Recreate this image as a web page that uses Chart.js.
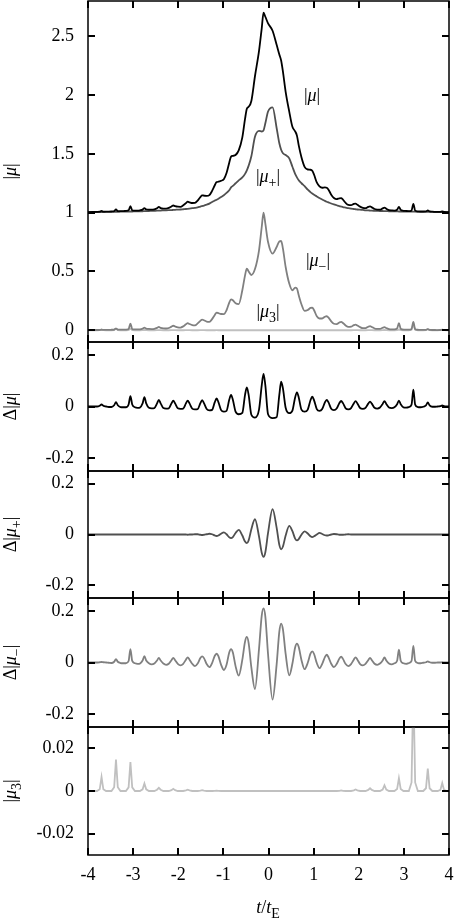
<!DOCTYPE html>
<html>
<head>
<meta charset="utf-8">
<script src="https://cdn.jsdelivr.net/npm/chart.js"></script>
<style>
  html, body { margin: 0; padding: 0; background: #fff; }
  #wrap { position: relative; width: 457px; height: 919px; }
  #wrap canvas { position: absolute; left: 0; top: 0; }
</style>
</head>
<body>
<div id="wrap">
  <canvas id="p1" width="457" height="919"></canvas>
  <canvas id="p2" width="457" height="919"></canvas>
  <canvas id="p3" width="457" height="919"></canvas>
  <canvas id="p4" width="457" height="919"></canvas>
  <canvas id="p5" width="457" height="919"></canvas>
</div>
<script>
// time grid t/tE (one row per ripple: p-0.1, p-0.04, p, p+0.04, p+0.1, then the gap point)
const t = [-4.00, -3.90,
  -3.80, -3.74, -3.70, -3.66, -3.60, -3.54,
  -3.48, -3.42, -3.38, -3.34, -3.28, -3.22,
  -3.16, -3.10, -3.06, -3.02, -2.96, -2.90,
  -2.85, -2.79, -2.75, -2.71, -2.65, -2.59,
  -2.53, -2.47, -2.43, -2.39, -2.33, -2.27,
  -2.21, -2.15, -2.11, -2.07, -2.01, -1.95,
  -1.89, -1.83, -1.79, -1.75, -1.69, -1.63,
  -1.57, -1.51, -1.47, -1.43, -1.37, -1.31,
  -1.25, -1.19, -1.15, -1.11, -1.05, -0.99,
  -0.93, -0.87, -0.83, -0.79, -0.73, -0.66,
  -0.58, -0.52, -0.48, -0.44, -0.38, -0.30,
  -0.21, -0.15, -0.11, -0.07, -0.01, 0.09,
  0.18, 0.24, 0.28, 0.32, 0.38, 0.46,
  0.53, 0.59, 0.63, 0.67, 0.73, 0.80,
  0.87, 0.93, 0.97, 1.01, 1.07, 1.13,
  1.19, 1.25, 1.29, 1.33, 1.39, 1.45,
  1.51, 1.57, 1.61, 1.65, 1.71, 1.77,
  1.83, 1.89, 1.93, 1.97, 2.03, 2.09,
  2.15, 2.21, 2.25, 2.29, 2.35, 2.41,
  2.47, 2.53, 2.57, 2.61, 2.67, 2.73,
  2.79, 2.85, 2.89, 2.93, 2.99, 3.05,
  3.11, 3.17, 3.21, 3.25, 3.31, 3.37,
  3.43, 3.49, 3.53, 3.57, 3.63, 3.69,
  3.75, 3.81, 3.85, 3.89, 3.95, 4.00];

// |mu|
const mu = [1.005, 1.006,
  1.007, 1.008, 1.015, 1.008, 1.009, 1.009,
  1.010, 1.013, 1.028, 1.013, 1.013, 1.013,
  1.015, 1.020, 1.055, 1.020, 1.018, 1.018,
  1.020, 1.026, 1.039, 1.027, 1.025, 1.025,
  1.028, 1.037, 1.048, 1.039, 1.035, 1.035,
  1.040, 1.053, 1.061, 1.056, 1.051, 1.050,
  1.062, 1.081, 1.093, 1.088, 1.082, 1.083,
  1.103, 1.132, 1.147, 1.145, 1.142, 1.149,
  1.185, 1.233, 1.260, 1.263, 1.271, 1.285,
  1.338, 1.425, 1.477, 1.483, 1.490, 1.530,
  1.640, 1.797, 1.884, 1.900, 1.950, 2.160,
  2.375, 2.568, 2.700, 2.666, 2.610, 2.547,
  2.428, 2.345, 2.294, 2.199, 2.028, 1.859,
  1.730, 1.692, 1.655, 1.572, 1.471, 1.390,
  1.367, 1.365, 1.356, 1.322, 1.257, 1.224,
  1.212, 1.215, 1.212, 1.195, 1.153, 1.125,
  1.115, 1.122, 1.123, 1.110, 1.083, 1.066,
  1.064, 1.074, 1.077, 1.067, 1.051, 1.041,
  1.038, 1.049, 1.053, 1.045, 1.031, 1.026,
  1.025, 1.036, 1.042, 1.033, 1.021, 1.019,
  1.018, 1.025, 1.050, 1.023, 1.016, 1.014,
  1.013, 1.019, 1.075, 1.017, 1.011, 1.010,
  1.010, 1.011, 1.020, 1.010, 1.008, 1.007,
  1.006, 1.007, 1.010, 1.006, 1.005, 1.005];

// |mu+|
const muPlus = [1.004, 1.004,
  1.005, 1.005, 1.005, 1.005, 1.006, 1.006,
  1.006, 1.007, 1.007, 1.007, 1.008, 1.008,
  1.009, 1.009, 1.010, 1.010, 1.011, 1.011,
  1.012, 1.012, 1.013, 1.013, 1.014, 1.015,
  1.016, 1.017, 1.018, 1.018, 1.019, 1.020,
  1.021, 1.022, 1.023, 1.024, 1.026, 1.027,
  1.029, 1.031, 1.033, 1.035, 1.038, 1.041,
  1.045, 1.052, 1.056, 1.060, 1.068, 1.077,
  1.090, 1.103, 1.110, 1.118, 1.133, 1.148,
  1.168, 1.190, 1.215, 1.228, 1.250, 1.275,
  1.300, 1.330, 1.360, 1.400, 1.480, 1.645,
  1.695, 1.690, 1.700, 1.760, 1.860, 1.895,
  1.720, 1.590, 1.535, 1.505, 1.490, 1.462,
  1.390, 1.330, 1.300, 1.275, 1.250, 1.225,
  1.195, 1.175, 1.163, 1.152, 1.138, 1.124,
  1.112, 1.100, 1.093, 1.087, 1.078, 1.070,
  1.063, 1.056, 1.052, 1.048, 1.043, 1.038,
  1.034, 1.031, 1.029, 1.027, 1.025, 1.023,
  1.020, 1.019, 1.018, 1.017, 1.016, 1.015,
  1.014, 1.014, 1.013, 1.013, 1.012, 1.012,
  1.011, 1.011, 1.010, 1.010, 1.010, 1.009,
  1.009, 1.008, 1.008, 1.008, 1.007, 1.007,
  1.007, 1.006, 1.006, 1.006, 1.006, 1.005,
  1.005, 1.005, 1.005, 1.004, 1.004, 1.004];

// |mu-|
const muMinus = [0.001, 0.002,
  0.002, 0.002, 0.004, 0.003, 0.003, 0.003,
  0.004, 0.006, 0.014, 0.006, 0.005, 0.005,
  0.006, 0.010, 0.057, 0.010, 0.007, 0.007,
  0.008, 0.014, 0.022, 0.014, 0.011, 0.010,
  0.012, 0.020, 0.028, 0.021, 0.016, 0.015,
  0.019, 0.031, 0.038, 0.032, 0.025, 0.023,
  0.033, 0.050, 0.060, 0.053, 0.044, 0.042,
  0.058, 0.080, 0.091, 0.085, 0.074, 0.072,
  0.095, 0.130, 0.150, 0.145, 0.138, 0.137,
  0.170, 0.235, 0.262, 0.255, 0.230, 0.222,
  0.340, 0.467, 0.524, 0.500, 0.470, 0.520,
  0.680, 0.878, 1.000, 0.906, 0.750, 0.652,
  0.708, 0.755, 0.759, 0.694, 0.538, 0.397,
  0.340, 0.362, 0.355, 0.297, 0.221, 0.165,
  0.172, 0.190, 0.193, 0.170, 0.119, 0.100,
  0.100, 0.115, 0.119, 0.108, 0.075, 0.055,
  0.052, 0.066, 0.071, 0.062, 0.040, 0.028,
  0.030, 0.043, 0.048, 0.040, 0.026, 0.018,
  0.018, 0.030, 0.035, 0.028, 0.015, 0.011,
  0.011, 0.021, 0.026, 0.019, 0.009, 0.007,
  0.007, 0.015, 0.060, 0.013, 0.006, 0.005,
  0.005, 0.011, 0.071, 0.009, 0.004, 0.003,
  0.003, 0.004, 0.010, 0.003, 0.002, 0.002,
  0.001, 0.002, 0.004, 0.001, 0.001, 0.001];

// |mu3|
const mu3 = [0, 0,
  0, 0.0008, 0.0066, 0.0008, 0, 0,
  0, 0.0018, 0.0147, 0.0018, 0, 0,
  0, 0.0017, 0.0136, 0.0017, 0, 0,
  0, 0.0008, 0.0035, 0.0008, 0, 0,
  0, 0.0006, 0.0015, 0.0006, 0, 0,
  0, 0.0004, 0.0010, 0.0004, 0, 0,
  0, 0.0003, 0.0006, 0.0003, 0, 0,
  0, 0.0002, 0.0004, 0.0002, 0, 0,
  0, 0.0001, 0.0002, 0.0001, 0, 0,
  0, 0, 0.0001, 0, 0, 0,
  0, 0, 0, 0, 0, 0,
  0, 0, 0, 0, 0, 0,
  0, 0, 0, 0, 0, 0,
  0, 0, 0, 0, 0, 0,
  0, 0, 0.0001, 0, 0, 0,
  0, 0, 0.0001, 0, 0, 0,
  0, 0.0001, 0.0003, 0.0001, 0, 0,
  0, 0.0003, 0.0007, 0.0003, 0, 0,
  0, 0.0005, 0.0013, 0.0005, 0, 0,
  0, 0.0007, 0.0027, 0.0007, 0, 0,
  0, 0.0009, 0.0060, 0.0009, 0, 0,
  0, 0.0040, 0.0500, 0.0040, 0, 0,
  0, 0.0013, 0.0105, 0.0013, 0, 0,
  0, 0.0005, 0.0037, 0.0005, 0, 0];

// Delta|mu|
const dMu = [0.000, 0.000,
  0.000, 0.003, 0.008, 0.003, 0.000, -0.002,
  -0.002, 0.005, 0.017, 0.005, -0.002, -0.003,
  -0.003, 0.008, 0.040, 0.008, -0.003, -0.005,
  -0.004, 0.012, 0.036, 0.012, -0.005, -0.007,
  -0.006, 0.012, 0.026, 0.012, -0.006, -0.008,
  -0.007, 0.012, 0.023, 0.012, -0.007, -0.009,
  -0.008, 0.012, 0.023, 0.012, -0.008, -0.011,
  -0.010, 0.013, 0.025, 0.013, -0.010, -0.015,
  -0.013, 0.017, 0.031, 0.017, -0.014, -0.020,
  -0.017, 0.026, 0.045, 0.026, -0.020, -0.030,
  -0.025, 0.045, 0.074, 0.045, -0.032, -0.043,
  -0.012, 0.082, 0.126, 0.082, -0.030, -0.045,
  -0.042, 0.045, 0.096, 0.070, -0.005, -0.026,
  -0.016, 0.035, 0.055, 0.035, -0.012, -0.020,
  -0.012, 0.024, 0.038, 0.024, -0.010, -0.017,
  -0.010, 0.016, 0.026, 0.016, -0.009, -0.014,
  -0.008, 0.013, 0.022, 0.013, -0.007, -0.011,
  -0.006, 0.012, 0.021, 0.012, -0.006, -0.009,
  -0.005, 0.011, 0.019, 0.011, -0.005, -0.008,
  -0.004, 0.010, 0.021, 0.010, -0.004, -0.006,
  -0.003, 0.009, 0.023, 0.009, -0.003, -0.004,
  -0.002, 0.007, 0.065, 0.007, -0.002, -0.003,
  -0.001, 0.004, 0.016, 0.004, -0.001, -0.001,
  0.000, 0.001, 0.004, 0.001, 0.000, 0.000];

// Delta|mu+|
const dMuPlus = [0, 0,
  0, 0, 0, 0, 0, 0,
  0, 0, 0, 0, 0, 0,
  0, 0, 0, 0, 0, 0,
  0, 0, 0, 0, 0, 0,
  0, 0, 0, 0, 0, 0,
  0, 0, 0, 0, 0, 0,
  0, 0, -0.001, 0, 0, 0.001,
  0.001, -0.001, -0.002, -0.001, 0.001, 0.003,
  0.001, -0.004, -0.006, -0.004, 0.003, 0.008,
  0.001, -0.011, -0.014, -0.010, 0.006, 0.018,
  -0.004, -0.028, -0.034, -0.023, 0.021, 0.060,
  -0.008, -0.072, -0.088, -0.070, 0.006, 0.100,
  0.027, -0.041, -0.058, -0.047, -0.004, 0.034,
  0.013, -0.016, -0.023, -0.018, -0.001, 0.012,
  0.004, -0.007, -0.010, -0.007, 0.000, 0.0065,
  0.002, -0.003, -0.004, -0.003, 0.000, 0.002,
  0.001, -0.001, -0.001, -0.001, 0, 0.001,
  0, 0, 0, 0, 0, 0,
  0, 0, 0, 0, 0, 0,
  0, 0, 0, 0, 0, 0,
  0, 0, 0, 0, 0, 0,
  0, 0, 0, 0, 0, 0,
  0, 0, 0, 0, 0, 0,
  0, 0, 0, 0, 0, 0];

// Delta|mu-|
const dMuMinus = [0.000, 0.000,
  0.000, 0.001, 0.002, 0.001, 0.000, -0.001,
  -0.002, 0.003, 0.013, 0.003, -0.002, -0.003,
  -0.003, 0.006, 0.052, 0.006, -0.003, -0.005,
  -0.004, 0.008, 0.025, 0.008, -0.003, -0.007,
  -0.004, 0.008, 0.018, 0.008, -0.004, -0.009,
  -0.005, 0.009, 0.018, 0.009, -0.005, -0.011,
  -0.005, 0.011, 0.020, 0.011, -0.005, -0.014,
  -0.004, 0.017, 0.024, 0.017, -0.006, -0.018,
  -0.002, 0.026, 0.034, 0.025, -0.009, -0.029,
  -0.009, 0.039, 0.052, 0.039, -0.014, -0.051,
  0.011, 0.081, 0.099, 0.075, -0.019, -0.103,
  0.053, 0.182, 0.210, 0.178, 0.032, -0.144,
  -0.008, 0.120, 0.151, 0.128, 0.033, -0.050,
  -0.004, 0.058, 0.073, 0.060, 0.010, -0.026,
  -0.001, 0.034, 0.043, 0.033, -0.002, -0.022,
  -0.005, 0.021, 0.030, 0.020, -0.005, -0.018,
  -0.006, 0.015, 0.023, 0.014, -0.006, -0.014,
  -0.006, 0.011, 0.020, 0.011, -0.006, -0.011,
  -0.005, 0.009, 0.018, 0.009, -0.005, -0.009,
  -0.004, 0.008, 0.020, 0.008, -0.004, -0.007,
  -0.003, 0.007, 0.050, 0.007, -0.003, -0.005,
  -0.002, 0.006, 0.064, 0.006, -0.002, -0.003,
  -0.001, 0.001, 0.004, 0.001, -0.001, -0.001,
  0.000, 0.000, 0.001, 0.000, 0.000, 0.000];

const xTicks = [-4, -3, -2, -1, 0, 1, 2, 3, 4];
const yTicksMu = [0, 0.5, 1, 1.5, 2, 2.5];
const yTicksDelta = [-0.2, 0, 0.2];
const yTicksMu3 = [-0.02, 0, 0.02];

const FAMILY = '"Liberation Serif", "DejaVu Serif", serif';
const W = 457, H = 919, PLOT_LEFT = 88, PLOT_RIGHT = 449;
const edges = [1, 342, 471, 598, 727, 855];
const TICK = 7;

function fontFor(style) {
  if (style === 'i') return 'italic 18px ' + FAMILY;
  if (style === 's') return '14px ' + FAMILY;
  return '18px ' + FAMILY;
}

// text with italic letters and subscripts, centred on x
function drawRich(ctx, parts, x, y) {
  const widths = parts.map(([s, st]) => { ctx.font = fontFor(st); return ctx.measureText(s).width; });
  let cx = x - widths.reduce((a, b) => a + b, 0) / 2;
  ctx.textAlign = 'left';
  ctx.textBaseline = 'alphabetic';
  parts.forEach(([s, st], i) => {
    ctx.font = fontFor(st);
    ctx.fillText(s, cx, st === 's' ? y + 5 : y);
    cx += widths[i];
  });
}

function line(data, color, smooth) {
  return {
    data: t.map((x, i) => ({ x: x, y: data[i] })),
    borderColor: color,
    borderWidth: 1.8,
    pointRadius: 0,
    tension: 0,
    cubicInterpolationMode: smooth ? 'monotone' : 'default',
    fill: false
  };
}

function panel(id, idx, datasets, yMin, yMax, yTicks, title, extra) {
  const top = edges[idx], bottom = edges[idx + 1];
  const last = idx === 4;
  const decor = {
    id: 'decor',
    afterDraw(chart) {
      const ctx = chart.ctx, a = chart.chartArea;
      const xs = chart.scales.x, ys = chart.scales.y;
      ctx.save();
      ctx.fillStyle = '#000';
      // inward tick marks on all four sides
      xTicks.forEach(val => {
        const px = Math.round(xs.getPixelForValue(val));
        ctx.fillRect(px - 1, a.top, 2, TICK);
        ctx.fillRect(px - 1, a.bottom - TICK, 2, TICK);
      });
      yTicks.forEach(val => {
        const py = Math.round(ys.getPixelForValue(val));
        ctx.fillRect(a.left, py - 1, TICK, 2);
        ctx.fillRect(a.right - TICK, py - 1, TICK, 2);
      });
      ctx.strokeStyle = '#000';
      ctx.lineWidth = 1.5;
      ctx.strokeRect(a.left, a.top, a.right - a.left, a.bottom - a.top);
      ctx.save();
      ctx.translate(16, (a.top + a.bottom) / 2);
      ctx.rotate(-Math.PI / 2);
      drawRich(ctx, title, 0, 0);
      ctx.restore();
      if (extra) extra(ctx);
      ctx.restore();
    }
  };
  return new Chart(document.getElementById(id), {
    type: 'line',
    data: { datasets: datasets },
    options: {
      responsive: false,
      animation: false,
      events: [],
      layout: { padding: { left: 0, right: W - PLOT_RIGHT, top: top, bottom: last ? 0 : H - bottom } },
      plugins: { legend: { display: false }, tooltip: { enabled: false } },
      scales: {
        x: {
          type: 'linear', min: -4, max: 4, display: last,
          grid: { display: false, drawTicks: false },
          border: { display: false },
          afterBuildTicks: s => { s.ticks = xTicks.map(v => ({ value: v })); },
          afterFit: s => {
            if (!last) return;
            s.height = H - bottom; s.paddingLeft = 0; s.paddingRight = 0;
          },
          ticks: { color: '#000', font: { family: FAMILY, size: 18 }, padding: 9, maxRotation: 0, autoSkip: false, callback: v => String(v) }
        },
        y: {
          min: yMin, max: yMax,
          grid: { display: false, drawTicks: false },
          border: { display: false },
          afterBuildTicks: s => { s.ticks = yTicks.map(v => ({ value: v })); },
          afterFit: s => { s.width = PLOT_LEFT; s.paddingTop = 0; s.paddingBottom = 0; },
          ticks: { color: '#000', font: { family: FAMILY, size: 18 }, padding: 14, autoSkip: false, callback: v => String(v) }
        }
      }
    },
    plugins: [decor]
  });
}

const C_MU = '#000000', C_PLUS = '#505050', C_MINUS = '#808080', C_3 = '#c0c0c0';

panel('p1', 0, [
  line(mu, C_MU, true),
  line(muPlus, C_PLUS, true),
  line(muMinus, C_MINUS, true),
  line(mu3, C_3, false)
], -0.1, 2.8, yTicksMu, [['|'], ['μ', 'i'], ['|']], ctx => {
  drawRich(ctx, [['|'], ['μ', 'i'], ['|']], 312, 101);
  drawRich(ctx, [['|'], ['μ', 'i'], ['+', 's'], ['|']], 268, 182);
  drawRich(ctx, [['|'], ['μ', 'i'], ['−', 's'], ['|']], 318, 266);
  drawRich(ctx, [['|'], ['μ', 'i'], ['3', 's'], ['|']], 268, 317);
});
panel('p2', 1, [line(dMu, C_MU, true)], -0.25, 0.25, yTicksDelta,
  [['Δ'], ['|'], ['μ', 'i'], ['|']]);
panel('p3', 2, [line(dMuPlus, C_PLUS, true)], -0.25, 0.25, yTicksDelta,
  [['Δ'], ['|'], ['μ', 'i'], ['+', 's'], ['|']]);
panel('p4', 3, [line(dMuMinus, C_MINUS, true)], -0.25, 0.25, yTicksDelta,
  [['Δ'], ['|'], ['μ', 'i'], ['−', 's'], ['|']]);
panel('p5', 4, [line(mu3, C_3, false)], -0.03, 0.03, yTicksMu3,
  [['|'], ['μ', 'i'], ['3', 's'], ['|']], ctx => {
  drawRich(ctx, [['t', 'i'], ['/'], ['t', 'i'], ['E', 's']], 268, 913);
});
</script>
</body>
</html>
